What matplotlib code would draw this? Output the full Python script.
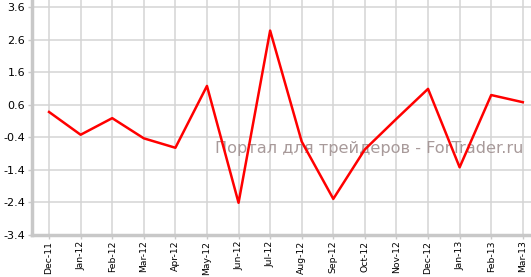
import matplotlib
matplotlib.use("Agg")
import matplotlib.pyplot as plt

# monthly values
months = ["Dec-11", "Jan-12", "Feb-12", "Mar-12", "Apr-12", "May-12", "Jun-12", "Jul-12",
          "Aug-12", "Sep-12", "Oct-12", "Nov-12", "Dec-12", "Jan-13", "Feb-13", "Mar-13"]
values = [0.38, -0.32, 0.19, -0.43, -0.72, 1.18, -2.41, 2.88,
          -0.53, -2.29, -0.77, 0.17, 1.09, -1.32, 0.90, 0.68]
y_ticks = [-3.4, -2.4, -1.4, -0.4, 0.6, 1.6, 2.6, 3.6]
watermark = "Портал для трейдеров - ForTrader.ru"

W, H = 531, 277
fig = plt.figure(figsize=(W / 100, H / 100), dpi=100)
ax = fig.add_axes([32 / W, 42 / H, 1 - 32 / W, 1 - 42 / H])

x = list(range(len(months)))
ax.plot(x, values, color="#ff0000", linewidth=1.8, zorder=3)

ax.set_xlim(-0.54, 15.26)
ax.set_ylim(-3.4, 3.82)
ax.set_xticks(x)
ax.set_xticklabels(months, rotation=90, fontsize=6.7)
ax.set_yticks(y_ticks)
ax.set_yticklabels([f"{v:.1f}" for v in y_ticks], fontsize=8)

ax.grid(True, color="#d4d4d4", linewidth=1.1)
ax.set_axisbelow(True)
for side in ["top", "right"]:
    ax.spines[side].set_visible(False)
for side in ["left", "bottom"]:
    ax.spines[side].set_color("#c8c8c8")
    ax.spines[side].set_linewidth(2.5)
ax.tick_params(axis="both", color="#c8c8c8", length=3, width=1, pad=2)
ax.tick_params(axis="x", pad=1)

# watermark
ax.text(215, 277 - 149, watermark, transform=None, fontsize=11.6,
        color="#a89a9a", va="center", ha="left", zorder=2)

fig.savefig("out.png", dpi=100)
